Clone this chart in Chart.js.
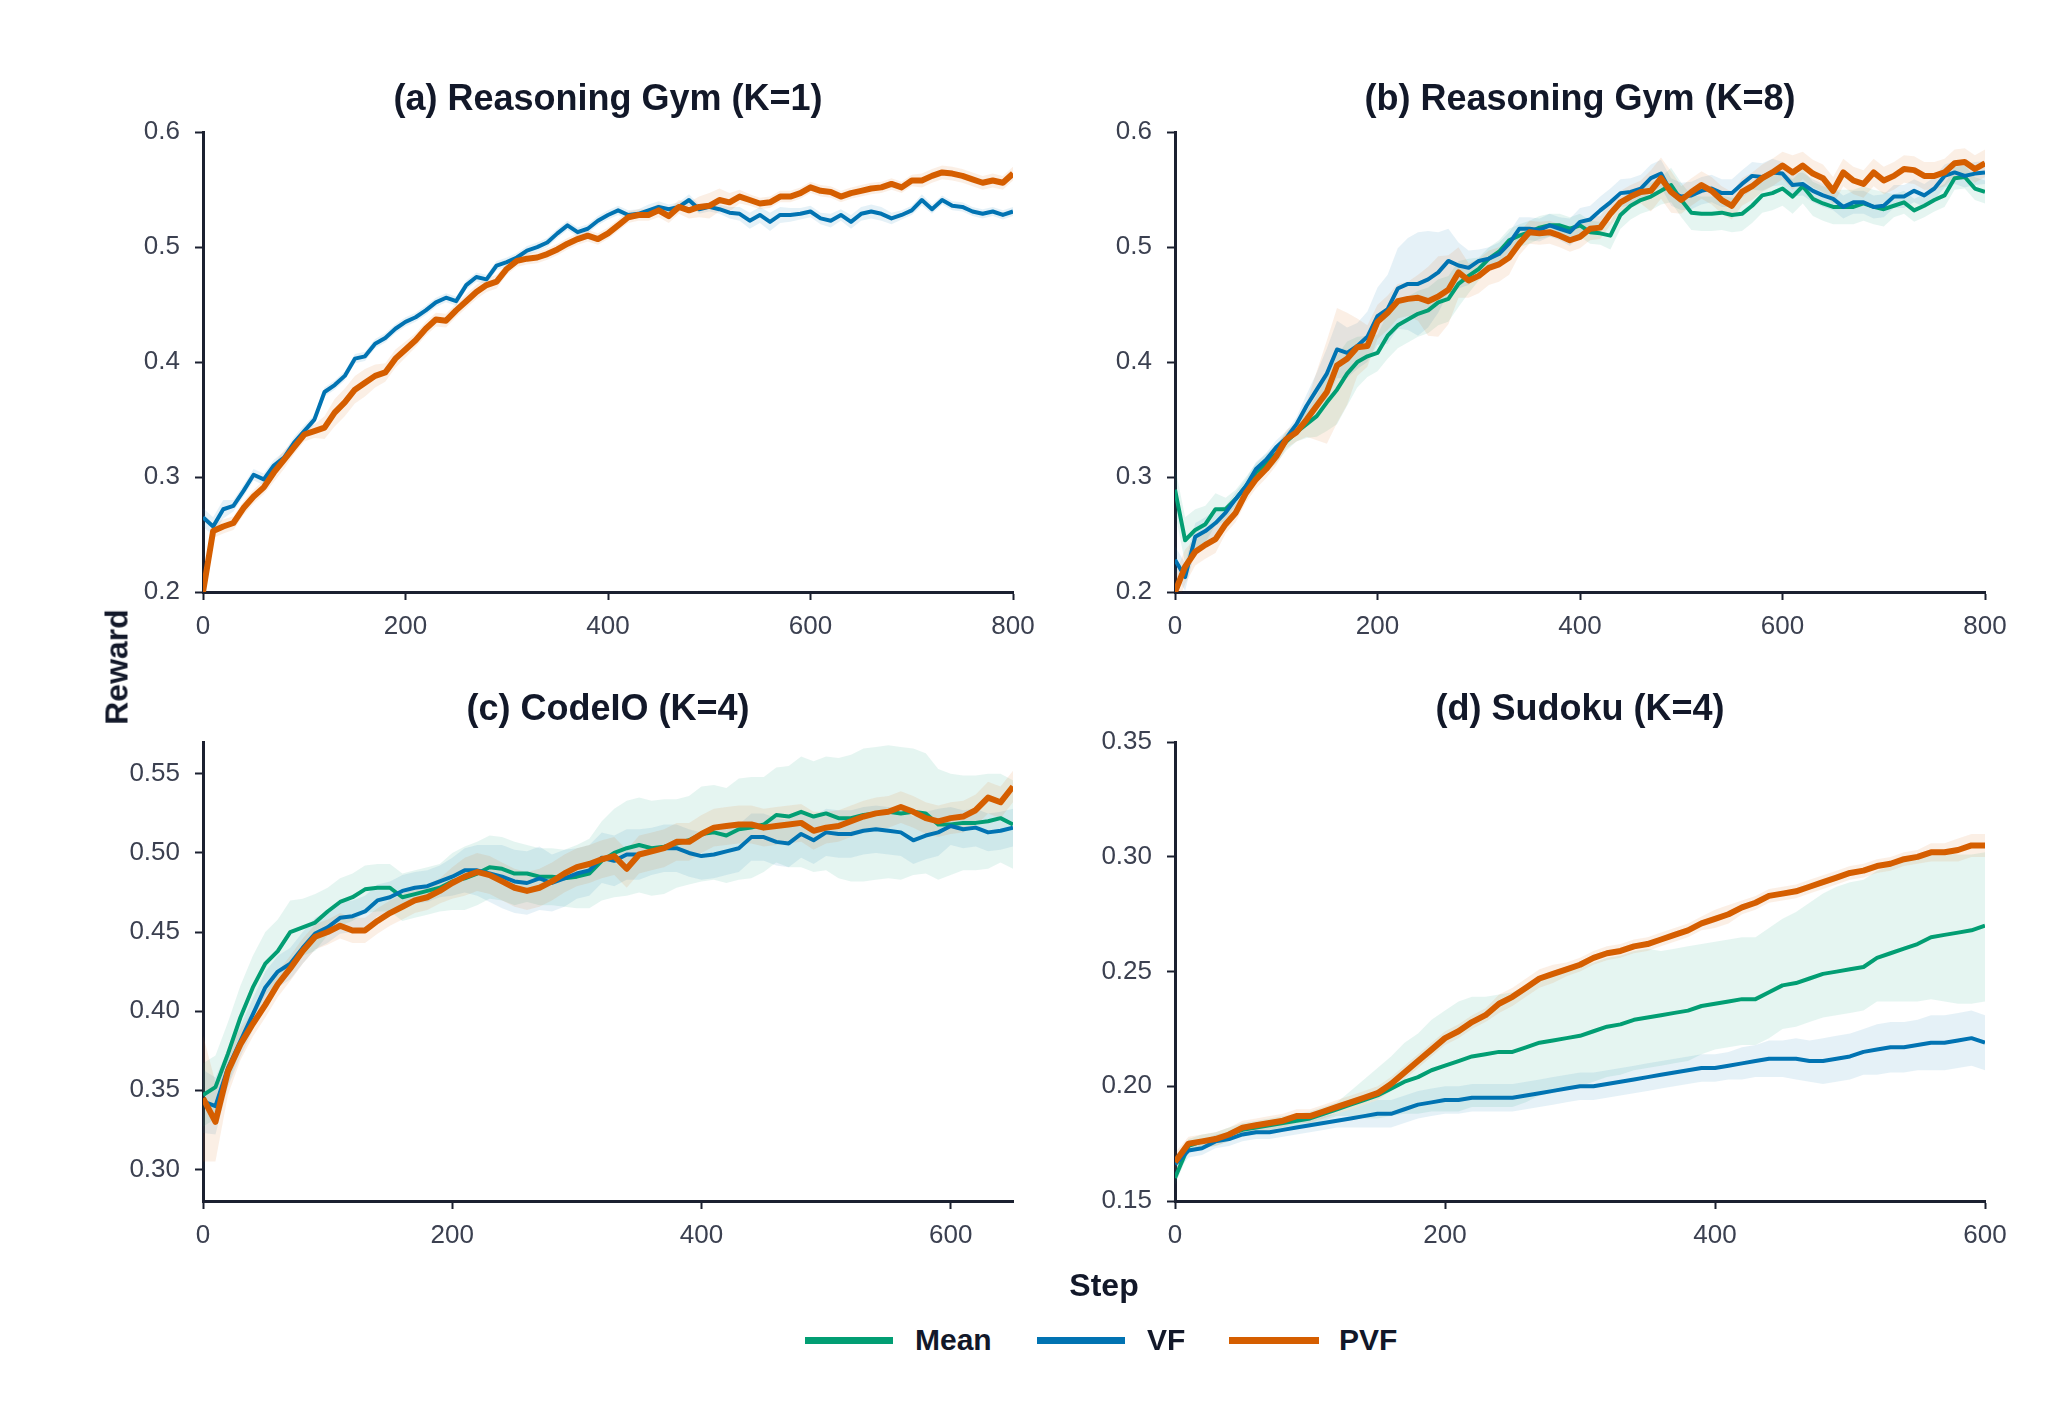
<!DOCTYPE html>
<html>
<head>
<meta charset="utf-8">
<script src="https://cdn.jsdelivr.net/npm/chart.js@4.4.1/dist/chart.umd.min.js"></script>
<style>
  body { margin: 0; background: #fff; width: 2050px; height: 1420px; position: relative; overflow: hidden;
         font-family: "Liberation Sans", Arial, sans-serif; color: #121829; }
  canvas { position: absolute; }
  .label { position: absolute; font-weight: bold; font-size: 32px; white-space: nowrap; }
  .swatch { position: absolute; height: 7px; }
  .legend-text { position: absolute; font-weight: bold; font-size: 30px; transform: translateY(-50%); }
</style>
</head>
<body>
<canvas id="chartA" width="1100" height="710" style="left:0;top:0"></canvas>
<canvas id="chartB" width="1050" height="710" style="left:1000px;top:0"></canvas>
<canvas id="chartC" width="1100" height="710" style="left:0;top:610px"></canvas>
<canvas id="chartD" width="1050" height="710" style="left:1000px;top:610px"></canvas>

<div class="label" style="left:117px;top:667px;transform:translate(-50%,-50%) rotate(-90deg)">Reward</div>
<div class="label" style="left:1104px;top:1285px;transform:translate(-50%,-50%)">Step</div>

<div class="swatch" style="left:805px;top:1337px;width:88px;background:#029e73"></div>
<div class="legend-text" style="left:915px;top:1340px">Mean</div>
<div class="swatch" style="left:1037px;top:1337px;width:88px;background:#0173b2"></div>
<div class="legend-text" style="left:1147px;top:1340px">VF</div>
<div class="swatch" style="left:1229px;top:1337px;width:90px;background:#d55e00"></div>
<div class="legend-text" style="left:1339px;top:1340px">PVF</div>

<script>
// ---- data ----
const stepsRg = [0,10,20,30,40,50,60,70,80,90,100,110,120,130,140,150,160,170,180,190,200,210,220,230,240,250,260,270,280,290,300,310,320,330,340,350,360,370,380,390,400,410,420,430,440,450,460,470,480,490,500,510,520,530,540,550,560,570,580,590,600,610,620,630,640,650,660,670,680,690,700,710,720,730,740,750,760,770,780,790,800];
const stepsCode = [0,10,20,30,40,50,60,70,80,90,100,110,120,130,140,150,160,170,180,190,200,210,220,230,240,250,260,270,280,290,300,310,320,330,340,350,360,370,380,390,400,410,420,430,440,450,460,470,480,490,500,510,520,530,540,550,560,570,580,590,600,610,620,630,640,650];
const stepsSudoku = [0,10,20,30,40,50,60,70,80,90,100,110,120,130,140,150,160,170,180,190,200,210,220,230,240,250,260,270,280,290,300,310,320,330,340,350,360,370,380,390,400,410,420,430,440,450,460,470,480,490,500,510,520,530,540,550,560,570,580,590,600];

// (a) Reasoning Gym K=1
const gymK1Vf = [0.265,0.257,0.272,0.275,0.288,0.302,0.298,0.310,0.317,0.330,
  0.340,0.350,0.374,0.380,0.388,0.403,0.405,0.416,0.421,0.429,
  0.435,0.439,0.445,0.452,0.456,0.453,0.467,0.474,0.472,0.484,
  0.487,0.491,0.497,0.500,0.504,0.512,0.519,0.513,0.516,0.523,
  0.528,0.532,0.528,0.529,0.532,0.535,0.533,0.535,0.541,0.533,
  0.535,0.533,0.530,0.529,0.523,0.528,0.522,0.528,0.528,0.529,
  0.531,0.525,0.523,0.528,0.522,0.529,0.531,0.529,0.525,0.528,
  0.532,0.541,0.533,0.541,0.536,0.535,0.531,0.529,0.531,0.528,
  0.531];
const gymK1VfSpread = [0.008,0.008,0.008,0.005,0.005,0.005,0.005,0.005,0.005,0.005,
  0.005,0.004,0.004,0.004,0.004,0.004,0.004,0.004,0.004,0.004,
  0.004,0.004,0.004,0.004,0.004,0.004,0.004,0.004,0.004,0.004,
  0.004,0.004,0.004,0.004,0.004,0.004,0.004,0.004,0.004,0.004,
  0.004,0.004,0.004,0.004,0.005,0.005,0.004,0.004,0.005,0.004,
  0.004,0.004,0.005,0.006,0.007,0.007,0.008,0.007,0.006,0.005,
  0.005,0.005,0.006,0.005,0.006,0.006,0.006,0.006,0.005,0.004,
  0.004,0.005,0.004,0.004,0.004,0.004,0.004,0.004,0.004,0.004,
  0.004];
const gymK1Pvf = [0.200,0.253,0.257,0.260,0.273,0.283,0.291,0.304,0.315,0.326,
  0.337,0.340,0.343,0.356,0.365,0.376,0.382,0.388,0.391,0.403,
  0.411,0.419,0.429,0.437,0.436,0.445,0.453,0.461,0.467,0.470,
  0.481,0.488,0.490,0.491,0.494,0.498,0.503,0.507,0.510,0.507,
  0.512,0.519,0.526,0.528,0.528,0.532,0.527,0.535,0.532,0.535,
  0.536,0.541,0.539,0.544,0.541,0.538,0.539,0.544,0.544,0.547,
  0.552,0.549,0.548,0.544,0.547,0.549,0.551,0.552,0.555,0.552,
  0.558,0.558,0.562,0.565,0.564,0.562,0.559,0.556,0.558,0.556,
  0.564];
const gymK1PvfSpread = [0.004,0.006,0.006,0.006,0.006,0.006,0.006,0.008,0.008,0.006,
  0.006,0.006,0.010,0.012,0.012,0.012,0.012,0.010,0.008,0.008,
  0.007,0.006,0.006,0.006,0.006,0.006,0.006,0.006,0.006,0.006,
  0.005,0.005,0.005,0.005,0.005,0.005,0.005,0.005,0.005,0.005,
  0.005,0.005,0.005,0.005,0.005,0.006,0.006,0.006,0.007,0.009,
  0.011,0.010,0.008,0.006,0.005,0.005,0.005,0.005,0.005,0.005,
  0.005,0.005,0.005,0.005,0.005,0.005,0.005,0.005,0.005,0.005,
  0.005,0.006,0.006,0.006,0.006,0.006,0.006,0.006,0.006,0.006,
  0.006];

// (b) Reasoning Gym K=8
const gymK8Mean = [0.289,0.245,0.254,0.259,0.272,0.272,0.281,0.292,0.304,0.312,
  0.320,0.331,0.339,0.346,0.353,0.365,0.376,0.390,0.400,0.405,
  0.408,0.423,0.432,0.437,0.442,0.445,0.452,0.455,0.468,0.475,
  0.481,0.490,0.496,0.506,0.510,0.513,0.517,0.519,0.519,0.516,
  0.519,0.513,0.512,0.510,0.528,0.536,0.541,0.544,0.549,0.554,
  0.541,0.530,0.529,0.529,0.530,0.528,0.529,0.536,0.545,0.547,
  0.551,0.544,0.553,0.542,0.538,0.535,0.535,0.535,0.538,0.535,
  0.533,0.536,0.539,0.532,0.536,0.541,0.545,0.560,0.561,0.551,
  0.548];
const gymK8MeanSpread = [0.020,0.020,0.018,0.016,0.014,0.010,0.008,0.008,0.008,0.008,
  0.008,0.008,0.008,0.012,0.018,0.025,0.030,0.028,0.022,0.018,
  0.016,0.020,0.020,0.020,0.020,0.020,0.020,0.020,0.020,0.015,
  0.010,0.010,0.010,0.010,0.010,0.010,0.010,0.010,0.010,0.010,
  0.010,0.010,0.010,0.012,0.012,0.012,0.012,0.012,0.012,0.015,
  0.015,0.015,0.015,0.015,0.015,0.015,0.015,0.015,0.015,0.015,
  0.015,0.015,0.015,0.015,0.015,0.015,0.015,0.015,0.015,0.015,
  0.015,0.010,0.010,0.010,0.010,0.010,0.010,0.010,0.010,0.010,
  0.010];
const gymK8Vf = [0.228,0.213,0.248,0.253,0.260,0.269,0.281,0.292,0.307,0.315,
  0.326,0.334,0.346,0.362,0.376,0.390,0.411,0.408,0.414,0.422,
  0.440,0.446,0.464,0.468,0.468,0.472,0.478,0.488,0.484,0.482,
  0.488,0.490,0.494,0.503,0.516,0.516,0.515,0.519,0.516,0.513,
  0.522,0.524,0.532,0.539,0.547,0.548,0.551,0.560,0.564,0.548,
  0.544,0.545,0.549,0.551,0.547,0.547,0.555,0.562,0.561,0.565,
  0.564,0.554,0.555,0.549,0.545,0.542,0.535,0.539,0.539,0.535,
  0.536,0.544,0.544,0.549,0.545,0.551,0.562,0.565,0.562,0.564,
  0.565];
const gymK8VfSpread = [0.012,0.012,0.012,0.012,0.012,0.006,0.006,0.006,0.006,0.006,
  0.006,0.006,0.006,0.010,0.015,0.022,0.025,0.022,0.020,0.022,
  0.025,0.030,0.035,0.040,0.045,0.042,0.035,0.028,0.020,0.015,
  0.010,0.010,0.010,0.010,0.010,0.010,0.010,0.010,0.010,0.012,
  0.012,0.012,0.012,0.012,0.012,0.012,0.012,0.012,0.012,0.012,
  0.012,0.012,0.012,0.012,0.012,0.012,0.012,0.012,0.012,0.012,
  0.010,0.010,0.010,0.010,0.010,0.010,0.010,0.010,0.010,0.010,
  0.010,0.010,0.010,0.010,0.010,0.010,0.010,0.010,0.010,0.010,
  0.010];
const gymK8Pvf = [0.200,0.222,0.235,0.241,0.246,0.259,0.269,0.286,0.298,0.307,
  0.318,0.333,0.339,0.350,0.362,0.374,0.397,0.403,0.413,0.414,
  0.435,0.443,0.453,0.455,0.456,0.453,0.457,0.463,0.478,0.471,
  0.475,0.482,0.485,0.491,0.503,0.513,0.512,0.513,0.510,0.506,
  0.509,0.516,0.517,0.529,0.539,0.544,0.548,0.549,0.560,0.548,
  0.541,0.548,0.554,0.549,0.541,0.536,0.548,0.553,0.560,0.565,
  0.571,0.565,0.571,0.564,0.560,0.549,0.565,0.558,0.555,0.565,
  0.558,0.562,0.568,0.567,0.562,0.562,0.565,0.573,0.574,0.568,
  0.573];
const gymK8PvfSpread = [0.015,0.015,0.012,0.012,0.012,0.008,0.008,0.008,0.008,0.008,
  0.008,0.008,0.008,0.015,0.030,0.045,0.050,0.040,0.025,0.018,
  0.015,0.015,0.015,0.015,0.020,0.030,0.035,0.030,0.022,0.015,
  0.015,0.015,0.015,0.015,0.010,0.010,0.010,0.010,0.010,0.010,
  0.010,0.010,0.010,0.010,0.010,0.010,0.010,0.018,0.018,0.018,
  0.012,0.012,0.012,0.012,0.012,0.012,0.012,0.012,0.012,0.012,
  0.012,0.015,0.012,0.012,0.012,0.012,0.012,0.012,0.012,0.012,
  0.012,0.012,0.012,0.012,0.012,0.012,0.012,0.012,0.012,0.012,
  0.012];

// (c) CodeIO K=4
const codeMean = [0.347,0.352,0.373,0.396,0.415,0.430,0.438,0.450,0.453,0.456,
  0.463,0.469,0.472,0.477,0.478,0.478,0.472,0.474,0.476,0.478,
  0.482,0.484,0.487,0.491,0.490,0.487,0.487,0.485,0.485,0.484,
  0.485,0.487,0.495,0.500,0.503,0.505,0.503,0.504,0.506,0.508,
  0.512,0.513,0.511,0.515,0.516,0.518,0.524,0.523,0.526,0.523,
  0.525,0.522,0.522,0.524,0.525,0.526,0.525,0.526,0.525,0.518,
  0.518,0.519,0.519,0.520,0.522,0.518];
const codeMeanSpread = [0.020,0.020,0.020,0.020,0.020,0.020,0.020,0.020,0.018,0.018,
  0.015,0.015,0.015,0.015,0.015,0.015,0.015,0.015,0.015,0.015,
  0.018,0.020,0.020,0.020,0.020,0.020,0.018,0.018,0.018,0.018,
  0.020,0.022,0.025,0.028,0.030,0.030,0.030,0.030,0.028,0.028,
  0.030,0.030,0.030,0.032,0.032,0.030,0.030,0.032,0.035,0.035,
  0.036,0.038,0.040,0.042,0.042,0.042,0.042,0.040,0.038,0.035,
  0.032,0.030,0.030,0.030,0.028,0.028];
const codeVf = [0.343,0.340,0.364,0.381,0.398,0.415,0.425,0.430,0.440,0.449,
  0.453,0.459,0.460,0.463,0.470,0.472,0.476,0.478,0.479,0.482,
  0.485,0.489,0.489,0.487,0.485,0.482,0.481,0.484,0.481,0.484,
  0.487,0.489,0.497,0.495,0.499,0.499,0.501,0.503,0.503,0.500,
  0.498,0.499,0.501,0.503,0.510,0.510,0.507,0.506,0.512,0.508,
  0.513,0.512,0.512,0.514,0.515,0.514,0.513,0.508,0.511,0.513,
  0.517,0.515,0.516,0.513,0.514,0.516];
const codeVfSpread = [0.020,0.018,0.012,0.010,0.010,0.010,0.010,0.010,0.010,0.010,
  0.010,0.010,0.010,0.010,0.010,0.010,0.010,0.010,0.010,0.010,
  0.012,0.014,0.016,0.018,0.020,0.020,0.020,0.020,0.018,0.018,
  0.016,0.016,0.016,0.016,0.016,0.016,0.015,0.015,0.015,0.015,
  0.015,0.015,0.015,0.015,0.015,0.015,0.015,0.015,0.015,0.015,
  0.015,0.015,0.015,0.015,0.015,0.015,0.015,0.015,0.015,0.015,
  0.012,0.012,0.012,0.012,0.012,0.012];
const codePvf = [0.345,0.330,0.362,0.379,0.392,0.404,0.417,0.427,0.438,0.447,
  0.450,0.454,0.451,0.451,0.457,0.462,0.466,0.470,0.472,0.476,
  0.481,0.485,0.488,0.486,0.482,0.478,0.476,0.478,0.482,0.487,
  0.491,0.493,0.496,0.498,0.490,0.499,0.501,0.503,0.507,0.507,
  0.512,0.516,0.517,0.518,0.518,0.516,0.517,0.518,0.519,0.514,
  0.516,0.517,0.520,0.523,0.525,0.526,0.529,0.526,0.522,0.520,
  0.522,0.523,0.527,0.535,0.532,0.542];
const codePvfSpread = [0.040,0.025,0.015,0.010,0.008,0.008,0.008,0.008,0.008,0.008,
  0.008,0.008,0.008,0.008,0.008,0.008,0.008,0.008,0.008,0.008,
  0.010,0.012,0.012,0.012,0.012,0.012,0.012,0.012,0.012,0.012,
  0.012,0.012,0.012,0.012,0.012,0.012,0.012,0.012,0.012,0.012,
  0.012,0.012,0.012,0.012,0.012,0.012,0.012,0.012,0.012,0.012,
  0.010,0.010,0.010,0.010,0.010,0.010,0.010,0.010,0.010,0.010,
  0.010,0.010,0.010,0.010,0.010,0.010];

// (d) Sudoku K=4
const sudokuMean = [0.160,0.174,0.176,0.177,0.179,0.181,0.182,0.183,0.184,0.185,
  0.186,0.188,0.190,0.192,0.194,0.196,0.199,0.202,0.204,0.207,
  0.209,0.211,0.213,0.214,0.215,0.215,0.217,0.219,0.220,0.221,
  0.222,0.224,0.226,0.227,0.229,0.230,0.231,0.232,0.233,0.235,
  0.236,0.237,0.238,0.238,0.241,0.244,0.245,0.247,0.249,0.250,
  0.251,0.252,0.256,0.258,0.260,0.262,0.265,0.266,0.267,0.268,
  0.270];
const sudokuMeanHi = [0.003,0.003,0.003,0.003,0.003,0.003,0.003,0.003,0.003,0.003,
  0.003,0.003,0.003,0.006,0.009,0.012,0.014,0.017,0.019,0.022,
  0.024,0.026,0.026,0.025,0.025,0.026,0.027,0.028,0.029,0.029,
  0.030,0.030,0.030,0.030,0.030,0.030,0.028,0.028,0.028,0.027,
  0.027,0.027,0.027,0.027,0.028,0.029,0.031,0.033,0.035,0.037,
  0.038,0.038,0.038,0.038,0.038,0.038,0.037,0.036,0.034,0.033,
  0.032];
const sudokuMeanLo = [0.003,0.003,0.003,0.003,0.003,0.003,0.003,0.003,0.003,0.003,
  0.003,0.003,0.003,0.005,0.008,0.010,0.012,0.014,0.016,0.018,
  0.020,0.022,0.022,0.023,0.024,0.024,0.024,0.023,0.023,0.022,
  0.022,0.022,0.022,0.022,0.022,0.022,0.022,0.022,0.022,0.021,
  0.020,0.020,0.020,0.020,0.020,0.019,0.019,0.019,0.019,0.019,
  0.019,0.019,0.019,0.021,0.023,0.025,0.027,0.029,0.031,0.032,
  0.033];
const sudokuVf = [0.166,0.172,0.173,0.176,0.177,0.179,0.180,0.180,0.181,0.182,
  0.183,0.184,0.185,0.186,0.187,0.188,0.188,0.190,0.192,0.193,
  0.194,0.194,0.195,0.195,0.195,0.195,0.196,0.197,0.198,0.199,
  0.200,0.200,0.201,0.202,0.203,0.204,0.205,0.206,0.207,0.208,
  0.208,0.209,0.210,0.211,0.212,0.212,0.212,0.211,0.211,0.212,
  0.213,0.215,0.216,0.217,0.217,0.218,0.219,0.219,0.220,0.221,
  0.219];
const sudokuVfSpread = [0.004,0.003,0.003,0.003,0.003,0.003,0.003,0.003,0.003,0.003,
  0.003,0.003,0.003,0.004,0.005,0.006,0.006,0.006,0.006,0.006,
  0.006,0.006,0.006,0.006,0.006,0.006,0.006,0.006,0.006,0.006,
  0.006,0.006,0.006,0.006,0.006,0.006,0.006,0.006,0.006,0.006,
  0.006,0.006,0.007,0.007,0.008,0.008,0.009,0.009,0.010,0.010,
  0.010,0.010,0.011,0.011,0.011,0.011,0.012,0.012,0.012,0.012,
  0.012];
const sudokuPvf = [0.167,0.175,0.176,0.177,0.179,0.182,0.183,0.184,0.185,0.187,
  0.187,0.189,0.191,0.193,0.195,0.197,0.201,0.206,0.211,0.216,
  0.221,0.224,0.228,0.231,0.236,0.239,0.243,0.247,0.249,0.251,
  0.253,0.256,0.258,0.259,0.261,0.262,0.264,0.266,0.268,0.271,
  0.273,0.275,0.278,0.280,0.283,0.284,0.285,0.287,0.289,0.291,
  0.293,0.294,0.296,0.297,0.299,0.300,0.302,0.302,0.303,0.305,
  0.305];
const sudokuPvfSpread = [0.004,0.003,0.003,0.003,0.003,0.003,0.003,0.003,0.003,0.003,
  0.003,0.003,0.003,0.003,0.003,0.003,0.003,0.003,0.003,0.003,
  0.003,0.003,0.003,0.003,0.004,0.004,0.004,0.004,0.004,0.003,
  0.003,0.003,0.003,0.003,0.003,0.003,0.003,0.003,0.003,0.003,
  0.004,0.004,0.003,0.003,0.003,0.003,0.003,0.003,0.003,0.003,
  0.003,0.003,0.003,0.003,0.003,0.003,0.004,0.004,0.005,0.005,
  0.005];

// tick labels
const xTicksRg = [0, 200, 400, 600, 800];
const xTicksShort = [0, 200, 400, 600];
const yTicksRg = [0.2, 0.3, 0.4, 0.5, 0.6];
const yTicksCode = [0.30, 0.35, 0.40, 0.45, 0.50, 0.55];
const yTicksSudoku = [0.15, 0.20, 0.25, 0.30, 0.35];

// ---- styling ----
const FONT = '"Liberation Sans", Arial, sans-serif';
const AXIS_COLOR = '#1b2030';
const TICK_TEXT = '#3b4050';
const TITLE_COLOR = '#121829';
const COLORS = { Mean: '#029e73', VF: '#0173b2', PVF: '#d55e00' };
const FILLS = { Mean: 'rgba(2,158,115,0.10)', VF: 'rgba(1,115,178,0.10)', PVF: 'rgba(213,94,0,0.10)' };
const WIDTHS = { Mean: 4, VF: 4, PVF: 6 };
const ORDER = { PVF: 0, VF: 1, Mean: 2 };

Chart.defaults.font.family = FONT;

function buildDatasets(steps, series) {
  const datasets = [];
  // shaded bands first (lower edge, then upper edge filled down to it)
  series.forEach(s => {
    datasets.push({
      data: steps.map((x, i) => ({ x: x, y: s.values[i] - s.lo[i] })),
      borderColor: 'rgba(0,0,0,0)', borderWidth: 0, pointRadius: 0, fill: false,
      order: 10 + ORDER[s.name]
    });
    datasets.push({
      data: steps.map((x, i) => ({ x: x, y: s.values[i] + s.hi[i] })),
      borderColor: 'rgba(0,0,0,0)', borderWidth: 0, pointRadius: 0,
      fill: '-1', backgroundColor: FILLS[s.name],
      order: 10 + ORDER[s.name]
    });
  });
  series.forEach(s => {
    datasets.push({
      label: s.name,
      data: steps.map((x, i) => ({ x: x, y: s.values[i] })),
      borderColor: COLORS[s.name], borderWidth: WIDTHS[s.name],
      borderJoinStyle: 'round', pointRadius: 0, fill: false, tension: 0,
      order: ORDER[s.name]
    });
  });
  return datasets;
}

function makePanel(id, title, steps, series, xMax, xTicks, yMin, yMax, yTicks, decimals, yWidth, padRight, padBottom) {
  const ctx = document.getElementById(id).getContext('2d');
  new Chart(ctx, {
    type: 'line',
    data: { datasets: buildDatasets(steps, series) },
    options: {
      responsive: false,
      animation: false,
      layout: { padding: { top: 78, left: 0, right: padRight, bottom: padBottom } },
      plugins: {
        legend: { display: false },
        tooltip: { enabled: false },
        title: {
          display: true, text: title, fullSize: false, color: TITLE_COLOR,
          font: { size: 36, weight: 'bold' }, padding: { top: 0, bottom: 11 }
        }
      },
      scales: {
        x: {
          type: 'linear', min: 0, max: xMax,
          afterBuildTicks: scale => { scale.ticks = xTicks.map(v => ({ value: v })); },
          afterFit: scale => { scale.height = 60; scale.paddingLeft = 0; scale.paddingRight = 0; },
          ticks: { font: { size: 26 }, color: TICK_TEXT, padding: 11, maxRotation: 0, autoSkip: false,
                   callback: v => String(v) },
          grid: { drawOnChartArea: false, tickLength: 8, tickWidth: 2, tickColor: AXIS_COLOR },
          border: { color: AXIS_COLOR, width: 3 }
        },
        y: {
          type: 'linear', min: yMin, max: yMax,
          afterBuildTicks: scale => { scale.ticks = yTicks.map(v => ({ value: v })); },
          afterFit: scale => { scale.width = yWidth; scale.paddingTop = 0; scale.paddingBottom = 0; },
          ticks: { font: { size: 26 }, color: TICK_TEXT, padding: 15,
                   callback: v => Number(v).toFixed(decimals) },
          grid: { drawOnChartArea: false, tickLength: 8, tickWidth: 2, tickColor: AXIS_COLOR },
          border: { color: AXIS_COLOR, width: 3 }
        }
      }
    }
  });
}

makePanel('chartA', '(a) Reasoning Gym (K=1)', stepsRg, [
  { name: 'VF', values: gymK1Vf, lo: gymK1VfSpread, hi: gymK1VfSpread },
  { name: 'PVF', values: gymK1Pvf, lo: gymK1PvfSpread, hi: gymK1PvfSpread }
], 800, xTicksRg, 0.2, 0.6, yTicksRg, 1, 203, 87, 58);

makePanel('chartB', '(b) Reasoning Gym (K=8)', stepsRg, [
  { name: 'Mean', values: gymK8Mean, lo: gymK8MeanSpread, hi: gymK8MeanSpread },
  { name: 'VF', values: gymK8Vf, lo: gymK8VfSpread, hi: gymK8VfSpread },
  { name: 'PVF', values: gymK8Pvf, lo: gymK8PvfSpread, hi: gymK8PvfSpread }
], 800, xTicksRg, 0.2, 0.6, yTicksRg, 1, 175, 65, 58);

makePanel('chartC', '(c) CodeIO (K=4)', stepsCode, [
  { name: 'Mean', values: codeMean, lo: codeMeanSpread, hi: codeMeanSpread },
  { name: 'VF', values: codeVf, lo: codeVfSpread, hi: codeVfSpread },
  { name: 'PVF', values: codePvf, lo: codePvfSpread, hi: codePvfSpread }
], 650, xTicksShort, 0.28, 0.57, yTicksCode, 2, 203, 87, 59);

makePanel('chartD', '(d) Sudoku (K=4)', stepsSudoku, [
  { name: 'Mean', values: sudokuMean, lo: sudokuMeanLo, hi: sudokuMeanHi },
  { name: 'VF', values: sudokuVf, lo: sudokuVfSpread, hi: sudokuVfSpread },
  { name: 'PVF', values: sudokuPvf, lo: sudokuPvfSpread, hi: sudokuPvfSpread }
], 600, xTicksShort, 0.15, 0.35, yTicksSudoku, 2, 175, 65, 59);
</script>
</body>
</html>
